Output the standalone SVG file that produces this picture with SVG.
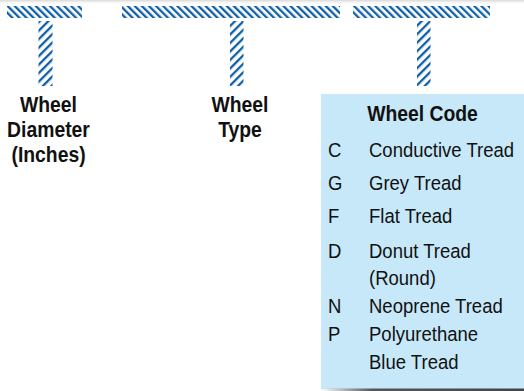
<svg xmlns="http://www.w3.org/2000/svg" width="524" height="391" viewBox="0 0 524 391">
<style>
.b{font-family:"Liberation Sans",Arial,sans-serif;font-weight:bold;font-size:21.5px;fill:#111;text-anchor:middle}
.r{font-family:"Liberation Sans",Arial,sans-serif;font-size:19.5px;fill:#111}
</style>
<defs>
<pattern id="hb" patternUnits="userSpaceOnUse" width="5" height="5" patternTransform="rotate(-45)">
<rect x="0" y="0" width="2.3" height="5" fill="#0e5fa8"/>
</pattern>
<pattern id="hs" patternUnits="userSpaceOnUse" width="6" height="6" patternTransform="rotate(45)">
<rect x="0" y="0" width="2.3" height="6" fill="#0e5fa8"/>
</pattern>
<linearGradient id="top" x1="0" y1="0" x2="0" y2="1">
<stop offset="0" stop-color="#d8d8d8"/>
<stop offset="1" stop-color="#fff" stop-opacity="0"/>
</linearGradient>
<linearGradient id="sh" x1="0" y1="0" x2="1" y2="0">
<stop offset="0" stop-color="#555" stop-opacity="0"/>
<stop offset="0.25" stop-color="#555"/>
<stop offset="1" stop-color="#444"/>
</linearGradient>
</defs>
<rect x="0" y="0" width="524" height="5" fill="url(#top)"/>
<g id="diameter">
<rect x="7" y="6" width="75" height="12" fill="url(#hb)"/>
<rect x="38.5" y="21" width="14" height="65" fill="url(#hs)"/>
<text class="b" transform="translate(48.5,112) scale(0.9,1)">Wheel</text>
<text class="b" transform="translate(48.5,137) scale(0.9,1)">Diameter</text>
<text class="b" transform="translate(48.5,162) scale(0.9,1)">(Inches)</text>
</g>
<g id="type">
<rect x="122" y="6" width="218" height="12" fill="url(#hb)"/>
<rect x="230" y="21" width="13.5" height="65" fill="url(#hs)"/>
<text class="b" transform="translate(240,112) scale(0.9,1)">Wheel</text>
<text class="b" transform="translate(240,137) scale(0.9,1)">Type</text>
</g>
<g id="code">
<rect x="353" y="6" width="137" height="12" fill="url(#hb)"/>
<rect x="417" y="21" width="13.5" height="65" fill="url(#hs)"/>
<rect x="321" y="94" width="203" height="295" fill="#c6e8f8"/>
<rect x="321" y="388.5" width="203" height="2.5" fill="url(#sh)"/>
<text class="b" transform="translate(422.5,121) scale(0.9,1)">Wheel Code</text>
<g transform="translate(328,0)">
<text class="r" transform="translate(0,157) scale(0.95,1)">C</text>
<text class="r" transform="translate(0,190) scale(0.95,1)">G</text>
<text class="r" transform="translate(0,223) scale(0.95,1)">F</text>
<text class="r" transform="translate(0,258) scale(0.95,1)">D</text>
<text class="r" transform="translate(0,313) scale(0.95,1)">N</text>
<text class="r" transform="translate(0,341) scale(0.95,1)">P</text>
</g>
<g transform="translate(369,0)">
<text class="r" transform="translate(0,157) scale(0.95,1)">Conductive Tread</text>
<text class="r" transform="translate(0,190) scale(0.95,1)">Grey Tread</text>
<text class="r" transform="translate(0,223) scale(0.95,1)">Flat Tread</text>
<text class="r" transform="translate(0,258) scale(0.95,1)">Donut Tread</text>
<text class="r" transform="translate(0,285) scale(0.95,1)">(Round)</text>
<text class="r" transform="translate(0,313) scale(0.95,1)">Neoprene Tread</text>
<text class="r" transform="translate(0,341) scale(0.95,1)">Polyurethane</text>
<text class="r" transform="translate(0,369) scale(0.95,1)">Blue Tread</text>
</g>
</g>
</svg>
